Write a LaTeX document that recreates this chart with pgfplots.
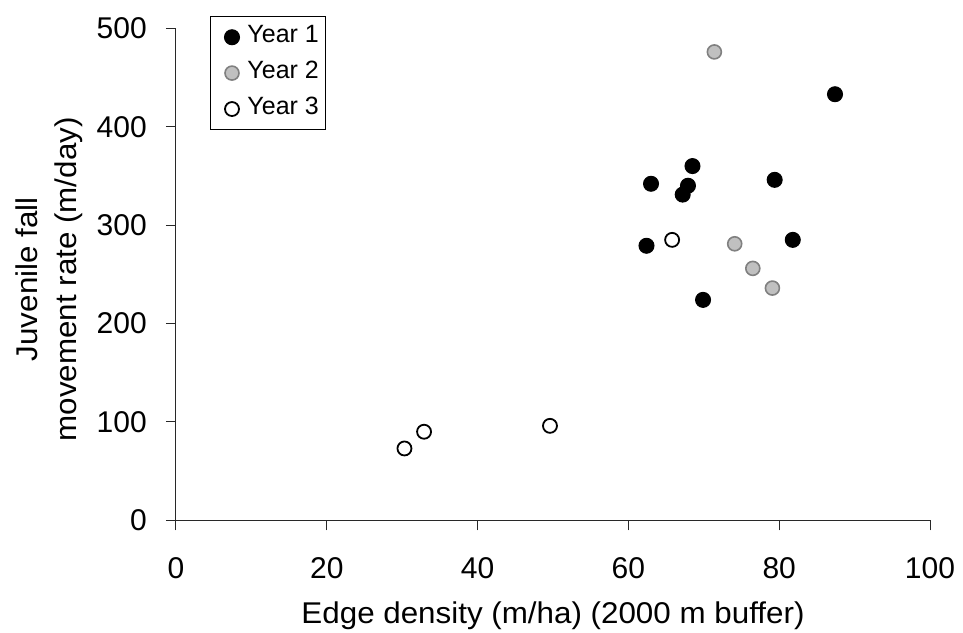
\documentclass[border=0pt]{standalone}
\usepackage{fontspec}
\setmainfont{Liberation Sans}
\newfontfamily\labelfont[FakeStretch=1.045]{Liberation Sans}
\usepackage{pgfplots}
\pgfplotsset{compat=1.18}
\definecolor{ygray}{RGB}{192,192,192}
\definecolor{ygrayd}{RGB}{128,128,128}
\definecolor{axc}{RGB}{40,40,40}
\begin{document}
\begin{tikzpicture}
\path[use as bounding box] (-176bp,-112.7bp) rectangle (787bp,520.3bp);
\begin{axis}[
  scale only axis,
  width=754bp, height=492bp,
  xmin=0, xmax=100, ymin=0, ymax=500,
  xtick={0,20,40,60,80,100},
  ytick={0,100,200,300,400,500},
  axis x line*=bottom, axis y line*=left,
  axis line style={-, line width=1bp, axc},
  tick align=outside,
  major tick length=10bp,
  tick style={line width=1bp, axc},
  xtick pos=bottom, ytick pos=left,
  clip=false,
  /pgf/number format/assume math mode=true,
  tick label style={font=\fontsize{30bp}{36bp}\selectfont},
  yticklabel style={anchor=east, inner sep=0pt, xshift=-19bp},
  xticklabel style={anchor=north, inner sep=0pt, yshift=-27.5bp},
  xlabel={Edge density (m/ha) (2000 m buffer)},
  ylabel={Juvenile fall\\movement rate (m/day)},
  label style={font=\labelfont\fontsize{30bp}{39bp}\selectfont},
  xlabel style={at={([yshift=-102.7bp]axis description cs:0.5,0)}, anchor=base, inner sep=0pt},
  ylabel style={at={([xshift=-93bp,yshift=-5bp]axis description cs:0,0.5)}, anchor=south, inner sep=0pt, align=center},
  legend style={at={([xshift=34bp,yshift=12bp]axis description cs:0,1)}, anchor=north west,
    draw=black, line width=1bp, fill=white,
    font=\fontsize{25bp}{30bp}\selectfont,
    inner xsep=7bp, inner ysep=9bp,
    row sep=12.8bp, column sep=7bp,
    nodes={inner sep=0pt, text depth=5.7bp}},
  legend cell align=left,
  legend image code/.code={\path (-14bp,0bp) (8bp,0bp); \draw[#1] plot coordinates {(0bp,0bp)};},
]
\addplot[only marks, mark=*, mark size=7.5bp, mark options={fill=black, draw=black, line width=1bp}]
  coordinates {(87.4,433) (68.5,360) (63.0,342) (67.9,340) (67.2,331) (79.4,346) (62.4,279) (81.8,285) (69.9,224)};
\addlegendentry{Year 1}
\addplot[only marks, mark=*, mark size=7bp, mark options={fill=ygray, draw=ygrayd, line width=1.6bp}]
  coordinates {(71.4,476) (74.1,281) (76.5,256) (79.1,236)};
\addlegendentry{Year 2}
\addplot[only marks, mark=*, mark size=7bp, mark options={fill=white, draw=black, line width=1.8bp}]
  coordinates {(65.8,285) (30.3,73) (32.9,90) (49.6,96)};
\addlegendentry{Year 3}
\end{axis}
\end{tikzpicture}
\end{document}
